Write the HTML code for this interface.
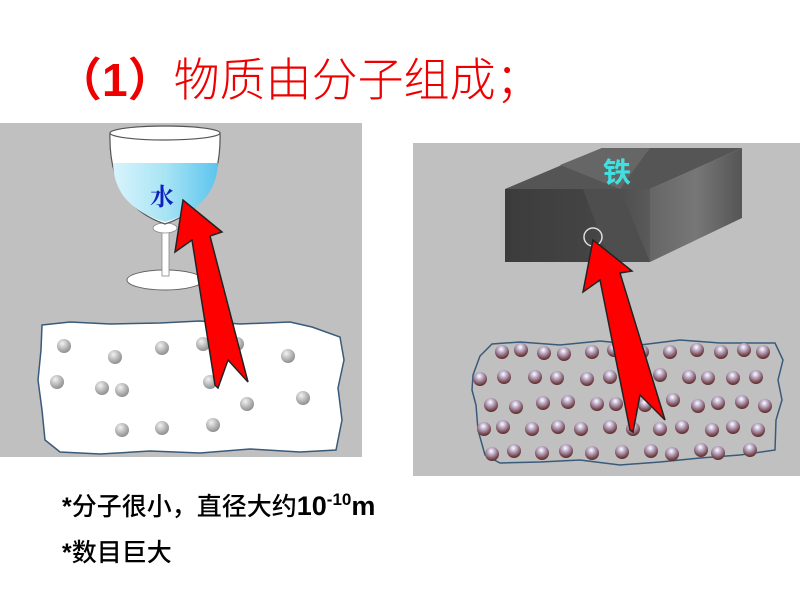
<!DOCTYPE html>
<html><head><meta charset="utf-8"><style>
html,body{margin:0;padding:0;background:#fff;}
body{width:800px;height:600px;overflow:hidden;}
</style></head><body>
<svg width="800" height="600" viewBox="0 0 800 600" xmlns="http://www.w3.org/2000/svg">
<defs>
<radialGradient id="gb" cx="0.38" cy="0.32" r="0.7">
<stop offset="0" stop-color="#f2f2f2"/><stop offset="0.6" stop-color="#b4b4b4"/><stop offset="1" stop-color="#8e8e8e"/>
</radialGradient>
<radialGradient id="pb" cx="0.45" cy="0.3" r="0.75">
<stop offset="0" stop-color="#ffffff"/><stop offset="0.35" stop-color="#b8a8c4"/><stop offset="0.75" stop-color="#7a4a50"/><stop offset="1" stop-color="#4a2020"/>
</radialGradient>
<linearGradient id="water" x1="0" x2="1">
<stop offset="0" stop-color="#d8f4fc"/><stop offset="0.5" stop-color="#a8e4f4"/><stop offset="1" stop-color="#5cc4ee"/>
</linearGradient>
<linearGradient id="front" x1="0" x2="1">
<stop offset="0" stop-color="#3c3c3c"/><stop offset="0.6" stop-color="#444"/><stop offset="1" stop-color="#5a5a5a"/>
</linearGradient>
<linearGradient id="side" x1="0" x2="1">
<stop offset="0" stop-color="#666"/><stop offset="0.5" stop-color="#777"/><stop offset="1" stop-color="#555"/>
</linearGradient>
</defs>

<text x="56" y="96" font-family="'Liberation Sans','Noto Sans CJK SC',sans-serif" font-size="46" fill="#ee0000"><tspan font-weight="bold">（1）</tspan><tspan font-weight="300">物质由分子组成；</tspan></text>

<!-- left panel -->
<rect x="0" y="123" width="362" height="334" fill="#c0c0c0"/>
<path d="M42,325 L70,322 L110,324 L160,323 L200,321 L240,324 L290,322 L312,327 L340,337 L344,360 L338,388 L342,420 L336,450 L300,452 L250,449 L200,453 L150,451 L100,454 L60,452 L45,440 L42,410 L38,380 L41,350 Z" fill="#fff" stroke="#3a5a7a" stroke-width="1.5"/>
<g fill="url(#gb)">
<circle cx="64" cy="346" r="7"/><circle cx="115" cy="357" r="7"/><circle cx="162" cy="348" r="7"/><circle cx="203" cy="344" r="7"/><circle cx="237" cy="344" r="7"/><circle cx="288" cy="356" r="7"/><circle cx="57" cy="382" r="7"/><circle cx="102" cy="388" r="7"/><circle cx="122" cy="390" r="7"/><circle cx="210" cy="382" r="7"/><circle cx="247" cy="404" r="7"/><circle cx="303" cy="398" r="7"/><circle cx="122" cy="430" r="7"/><circle cx="162" cy="428" r="7"/><circle cx="213" cy="425" r="7"/>
</g>
<!-- glass -->
<ellipse cx="165" cy="280" rx="38" ry="10" fill="#fff" stroke="#666" stroke-width="1"/>
<rect x="162" y="228" width="7" height="48" fill="#fff" stroke="#888" stroke-width="0.8"/>
<ellipse cx="165" cy="228" rx="12" ry="5" fill="#fff" stroke="#888" stroke-width="0.8"/>
<path d="M110,133 Q108,205 165,224 Q222,205 220,133 Z" fill="#fff" stroke="#555" stroke-width="1.2"/>
<path d="M113,163 L218,163 Q216,207 165,222 Q114,207 113,163 Z" fill="url(#water)"/>
<ellipse cx="165" cy="133" rx="55" ry="7" fill="#fff" stroke="#555" stroke-width="1.2"/>
<text x="150" y="205" font-family="'Noto Serif CJK SC',serif" font-weight="bold" font-size="24" fill="#1020c0">水</text>
<!-- left arrow -->
<path d="M183,200 L175,252 L192,240 L215,385 L218,388 L228,360 L248,382 L210,236 L222,232 Z" fill="#f00" stroke="#222" stroke-width="1.5" stroke-linejoin="miter"/>

<!-- right panel -->
<rect x="413" y="143" width="387" height="333" fill="#c0c0c0"/>
<polygon points="505,189 602,148 742,148 650,189" fill="#555"/>
<polygon points="560,165 602,148 650,148 620,189" fill="#666"/>
<polygon points="650,189 742,148 742,218 650,262" fill="url(#side)"/>
<rect x="505" y="189" width="145" height="73" fill="url(#front)"/>
<polygon points="583,189 620,189 650,262 610,262" fill="#4e4e4e"/>
<text x="603" y="182" font-family="'Noto Sans CJK SC',sans-serif" font-weight="bold" font-size="28" fill="#40e0e0">铁</text>
<circle cx="593" cy="237" r="9" fill="none" stroke="#ddd" stroke-width="1.5"/>
<path d="M473,375 L480,356 L492,344 L520,342 L560,345 L600,341 L640,345 L680,340 L720,343 L775,343 L783,360 L778,380 L782,400 L776,420 L775,450 L740,455 L700,458 L660,462 L620,465 L580,460 L540,462 L500,463 L485,455 L478,430 L476,405 L472,390 Z" fill="none" stroke="#3a5a7a" stroke-width="1.5"/>
<g fill="url(#pb)">
<circle cx="502" cy="352" r="7"/><circle cx="521" cy="350" r="7"/><circle cx="544" cy="353" r="7"/><circle cx="564" cy="354" r="7"/><circle cx="592" cy="352" r="7"/><circle cx="614" cy="350" r="7"/><circle cx="642" cy="352" r="7"/><circle cx="670" cy="352" r="7"/><circle cx="697" cy="350" r="7"/><circle cx="721" cy="352" r="7"/><circle cx="744" cy="350" r="7"/><circle cx="763" cy="352" r="7"/>
<circle cx="480" cy="379" r="7"/><circle cx="504" cy="377" r="7"/><circle cx="535" cy="377" r="7"/><circle cx="557" cy="378" r="7"/><circle cx="587" cy="379" r="7"/><circle cx="610" cy="377" r="7"/><circle cx="660" cy="375" r="7"/><circle cx="689" cy="377" r="7"/><circle cx="708" cy="378" r="7"/><circle cx="733" cy="378" r="7"/><circle cx="756" cy="377" r="7"/>
<circle cx="491" cy="405" r="7"/><circle cx="516" cy="407" r="7"/><circle cx="543" cy="403" r="7"/><circle cx="568" cy="402" r="7"/><circle cx="597" cy="404" r="7"/><circle cx="616" cy="404" r="7"/><circle cx="645" cy="405" r="7"/><circle cx="673" cy="400" r="7"/><circle cx="698" cy="406" r="7"/><circle cx="718" cy="403" r="7"/><circle cx="742" cy="402" r="7"/><circle cx="765" cy="406" r="7"/>
<circle cx="484" cy="429" r="7"/><circle cx="503" cy="427" r="7"/><circle cx="532" cy="429" r="7"/><circle cx="558" cy="427" r="7"/><circle cx="581" cy="429" r="7"/><circle cx="610" cy="427" r="7"/><circle cx="633" cy="429" r="7"/><circle cx="660" cy="429" r="7"/><circle cx="682" cy="427" r="7"/><circle cx="712" cy="430" r="7"/><circle cx="733" cy="427" r="7"/><circle cx="758" cy="430" r="7"/>
<circle cx="492" cy="454" r="7"/><circle cx="514" cy="451" r="7"/><circle cx="542" cy="453" r="7"/><circle cx="566" cy="451" r="7"/><circle cx="592" cy="453" r="7"/><circle cx="622" cy="452" r="7"/><circle cx="651" cy="451" r="7"/><circle cx="672" cy="454" r="7"/><circle cx="701" cy="450" r="7"/><circle cx="718" cy="453" r="7"/><circle cx="750" cy="450" r="7"/>
</g>
<path d="M593,240 L583,292 L600,280 L630,430 L633,432 L640,395 L665,420 L620,273 L632,271 Z" fill="#f00" stroke="#222" stroke-width="1.5"/>

<text x="62" y="515" font-family="'Liberation Sans','Noto Sans CJK SC',sans-serif" font-weight="500" font-size="25" fill="#000"><tspan font-weight="bold">*</tspan>分子很小，直径大约<tspan font-weight="bold" font-size="27">10</tspan><tspan font-weight="bold" font-size="17" dy="-10">-10</tspan><tspan font-weight="bold" font-size="27" dy="10">m</tspan></text>
<text x="62" y="561" font-family="'Liberation Sans','Noto Sans CJK SC',sans-serif" font-weight="500" font-size="25" fill="#000"><tspan font-weight="bold">*</tspan>数目巨大</text>
</svg>
</body></html>
